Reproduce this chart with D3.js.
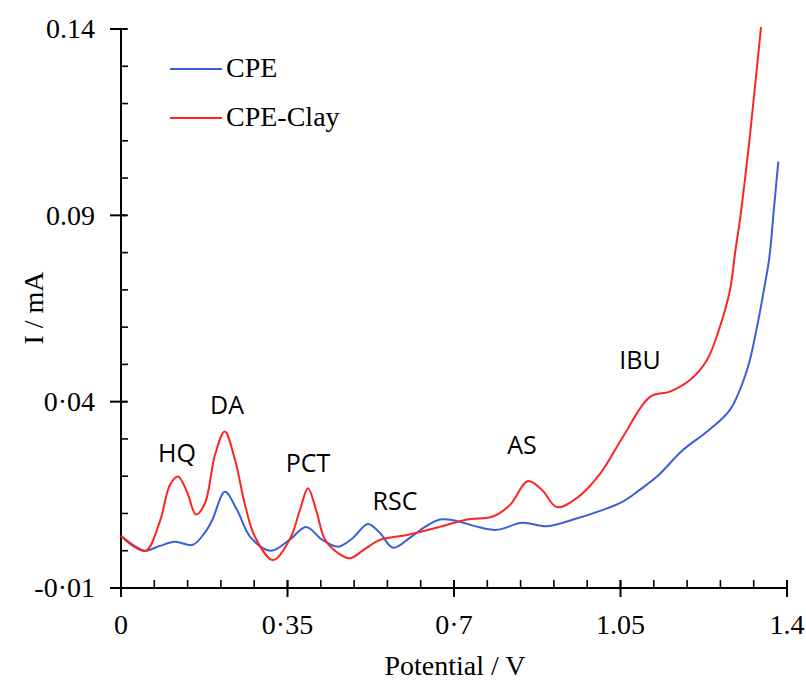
<!DOCTYPE html>
<html>
<head>
<meta charset="utf-8">
<script src="https://cdn.jsdelivr.net/npm/d3@7"></script>
<style>
  body { margin: 0; background: #fff; }
  .tick-label { font-family: "Liberation Serif", serif; font-size: 28px; fill: #000; }
  .peak { font-family: "Open Sans", sans-serif; font-size: 25px; fill: #000; }
</style>
</head>
<body>
<svg id="chart" width="806" height="681"></svg>
<script>
// ---- data ----
// CPE (blue) potential / V and current / mA
var cpeX = [0, 0.025, 0.05, 0.082, 0.1135, 0.151, 0.177, 0.192, 0.2186, 0.244, 0.273, 0.315, 0.355, 0.389,
  0.4225, 0.456, 0.488, 0.519, 0.544, 0.572, 0.6075, 0.639, 0.6706, 0.706, 0.744, 0.79, 0.843, 0.8955,
  0.954, 1.007, 1.055, 1.091, 1.1267, 1.181, 1.232, 1.28, 1.316, 1.337, 1.354, 1.3628, 1.3729, 1.3817];
var cpeY = [0.004, 0.0016, 0.0, 0.0013, 0.0024, 0.0016, 0.005, 0.0083, 0.0158, 0.0109, 0.0035, 0.0, 0.003, 0.0064,
  0.003, 0.0011, 0.0035, 0.0072, 0.0048, 0.0008, 0.0035, 0.0064, 0.0084, 0.008, 0.0066, 0.0056, 0.0075, 0.0066,
  0.0085, 0.0107, 0.0132, 0.0164, 0.0199, 0.027, 0.032, 0.0378, 0.0485, 0.0601, 0.0718, 0.0786, 0.0923, 0.1044];

// CPE-Clay (red)
var clayX = [0, 0.025, 0.0526, 0.082, 0.103, 0.1198, 0.1387, 0.1577, 0.1766, 0.1976, 0.218, 0.2396, 0.2607,
  0.2817, 0.3195, 0.3553, 0.3763, 0.3931, 0.41, 0.4288, 0.456, 0.4814, 0.513, 0.5444, 0.6012, 0.6706, 0.7273,
  0.782, 0.8177, 0.8555, 0.885, 0.9165, 0.9607, 1.0069, 1.0553, 1.112, 1.154, 1.196, 1.2318, 1.259, 1.2802,
  1.2917, 1.301, 1.318, 1.3327, 1.3454];
var clayY = [0.004, 0.0013, 0.0, 0.008, 0.0177, 0.0199, 0.0158, 0.0097, 0.0128, 0.0257, 0.032, 0.0244, 0.0123,
  0.0037, -0.0025, 0.0032, 0.011, 0.0168, 0.011, 0.003, -0.0006, -0.002, 0.0005, 0.0029, 0.0042, 0.0064, 0.0084,
  0.0092, 0.0123, 0.0187, 0.0163, 0.0117, 0.0144, 0.0206, 0.0306, 0.0413, 0.0427, 0.0458, 0.0512, 0.0601, 0.07,
  0.0807, 0.0887, 0.1067, 0.1245, 0.1405];

// axis ticks
var xMajor = [0, 0.35, 0.7, 1.05, 1.4];
var xMajorLabels = ["0", "0·35", "0·7", "1.05", "1.4"];
var yMajor = [0.14, 0.09, 0.04, -0.01];
var yMajorLabels = ["0.14", "0.09", "0·04", "-0·01"];

// peak annotations
var peakNames = ["HQ", "DA", "PCT", "RSC", "AS", "IBU"];
var peakX = [0.1177, 0.2228, 0.3931, 0.576, 0.843, 1.091];
var peakY = [0.0239, 0.0367, 0.0211, 0.0109, 0.026, 0.0488];

var seriesNames = ["CPE", "CPE-Clay"];
var seriesColors = ["#3b5fd6", "#ff2323"];

// ---- layout ----
var margin = {top: 29, right: 19, bottom: 93, left: 121};
var svg = d3.select("#chart");
var W = 806, H = 681;
var w = W - margin.left - margin.right, h = H - margin.top - margin.bottom;
var g = svg.append("g").attr("transform", "translate(" + margin.left + "," + margin.top + ")");

var x = d3.scaleLinear().domain([0, 1.4]).range([0, w]);
var y = d3.scaleLinear().domain([-0.01, 0.14]).range([h, 0]);

// minor tick values
var xMinor = d3.range(0, 21).map(function(i){ return i * 0.07; });
var yMinor = d3.range(0, 16).map(function(i){ return -0.01 + i * 0.01; });

var axisStroke = "#000";

// x axis line + ticks
g.append("line").attr("x1", 0).attr("x2", w).attr("y1", h).attr("y2", h)
  .attr("stroke", axisStroke).attr("stroke-width", 2);
g.selectAll(".xminor").data(xMinor).enter().append("line")
  .attr("x1", function(d){ return x(d); }).attr("x2", function(d){ return x(d); })
  .attr("y1", h - 8).attr("y2", h)
  .attr("stroke", axisStroke).attr("stroke-width", 1.6);
g.selectAll(".xmajor").data(xMajor).enter().append("line")
  .attr("x1", function(d){ return x(d); }).attr("x2", function(d){ return x(d); })
  .attr("y1", h - 8).attr("y2", h + 9)
  .attr("stroke", axisStroke).attr("stroke-width", 2);
g.selectAll(".xlab").data(xMajor).enter().append("text")
  .attr("class", "tick-label")
  .attr("x", function(d){ return x(d); })
  .attr("y", h + 46)
  .attr("text-anchor", "middle")
  .text(function(d, i){ return xMajorLabels[i]; });

// y axis line + ticks
g.append("line").attr("x1", 0).attr("x2", 0).attr("y1", 0).attr("y2", h)
  .attr("stroke", axisStroke).attr("stroke-width", 2);
g.selectAll(".yminor").data(yMinor).enter().append("line")
  .attr("x1", 0).attr("x2", 7)
  .attr("y1", function(d){ return y(d); }).attr("y2", function(d){ return y(d); })
  .attr("stroke", axisStroke).attr("stroke-width", 1.6);
g.selectAll(".ymajor").data(yMajor).enter().append("line")
  .attr("x1", -11).attr("x2", 6)
  .attr("y1", function(d){ return y(d); }).attr("y2", function(d){ return y(d); })
  .attr("stroke", axisStroke).attr("stroke-width", 2);
g.selectAll(".ylab").data(yMajor).enter().append("text")
  .attr("class", "tick-label")
  .attr("x", -26)
  .attr("y", function(d){ return y(d); })
  .attr("dy", "0.33em")
  .attr("text-anchor", "end")
  .text(function(d, i){ return yMajorLabels[i]; });

// axis titles
svg.append("text").attr("class", "tick-label")
  .attr("x", 455).attr("y", 675)
  .attr("text-anchor", "middle")
  .text("Potential / V");
svg.append("text").attr("class", "tick-label")
  .attr("transform", "translate(43,308) rotate(-90)")
  .attr("text-anchor", "middle")
  .text("I / mA");

// curves
var line = d3.line()
  .x(function(d){ return x(d[0]); })
  .y(function(d){ return y(d[1]); })
  .curve(d3.curveCatmullRom.alpha(0.5));

var cpe = d3.zip(cpeX, cpeY);
var clay = d3.zip(clayX, clayY);

g.append("path").datum(cpe).attr("d", line)
  .attr("fill", "none").attr("stroke", seriesColors[0]).attr("stroke-width", 2);
g.append("path").datum(clay).attr("d", line)
  .attr("fill", "none").attr("stroke", seriesColors[1]).attr("stroke-width", 2);

// peak labels
g.selectAll(".peak").data(peakNames).enter().append("text")
  .attr("class", "peak")
  .attr("x", function(d, i){ return x(peakX[i]); })
  .attr("y", function(d, i){ return y(peakY[i]); })
  .attr("text-anchor", "middle")
  .text(function(d){ return d; });

// legend
var legend = svg.append("g");
seriesNames.forEach(function(name, i){
  var ly = 69 + i * 49;
  legend.append("line").attr("x1", 170).attr("x2", 222).attr("y1", ly).attr("y2", ly)
    .attr("stroke", seriesColors[i]).attr("stroke-width", 2);
  legend.append("text").attr("class", "tick-label")
    .attr("x", 226).attr("y", ly + 8)
    .text(name);
});
</script>
</body>
</html>
